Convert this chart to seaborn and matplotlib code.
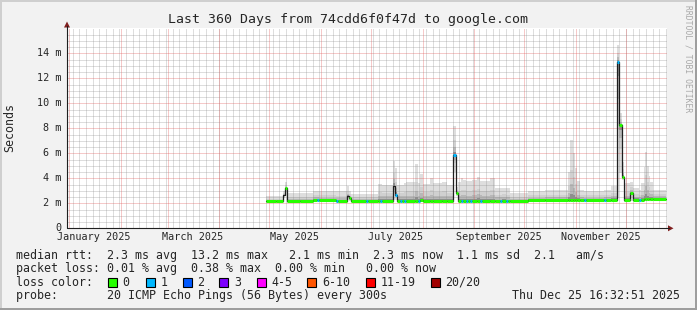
import numpy as np
import pandas as pd
import matplotlib
matplotlib.use("Agg")
import matplotlib.pyplot as plt
import matplotlib.transforms as mtrans
from matplotlib.patches import Rectangle, Polygon
from matplotlib.lines import Line2D
import seaborn as sns

# ---------------- data (x = days since window start 2024-12-30 16:32:51) ----------------
day = [119.4, 125.4, 129.6, 130.8, 132.0, 139.8, 147.6, 150.0, 151.2, 161.4,
       162.6, 168.0, 169.2, 170.4, 179.4, 180.6, 186.6, 187.8, 189.0, 195.6,
       196.8, 198.0, 199.8, 201.0, 202.2, 203.4, 208.8, 210.6, 211.8, 213.6,
       217.8, 219.6, 225.0, 228.0, 231.4, 233.4, 234.6, 236.4, 237.6, 239.4,
       240.6, 241.8, 243.0, 246.0, 247.8, 249.0, 253.8, 256.8, 259.8, 261.0,
       263.4, 264.6, 265.8, 276.6, 286.8, 300.6, 301.8, 303.6, 304.8, 306.0,
       307.8, 310.2, 311.4, 322.2, 323.4, 326.4, 330.0, 331.2, 332.7, 333.9,
       337.8, 339.6, 343.2, 344.4, 345.9, 346.8, 348.0, 348.9, 349.8, 351.6]
day_end = 359.4

median_ms = [2.15, 2.15, 2.65, 3.2, 2.2, 2.2, 2.3, 2.3, 2.25, 2.2,
             2.2, 2.55, 2.45, 2.2, 2.2, 2.2, 2.2, 2.2, 2.2, 3.4,
             2.66, 2.2, 2.2, 2.2, 2.2, 2.2, 2.2, 2.2, 2.25, 2.2,
             2.2, 2.2, 2.2, 2.2, 5.87, 2.85, 2.2, 2.2, 2.2, 2.2,
             2.2, 2.2, 2.2, 2.2, 2.2, 2.2, 2.2, 2.2, 2.2, 2.2,
             2.2, 2.2, 2.2, 2.25, 2.25, 2.25, 2.25, 2.25, 2.25, 2.25,
             2.25, 2.25, 2.25, 2.25, 2.25, 2.3, 13.3, 8.26, 4.13, 2.25,
             2.85, 2.3, 2.3, 2.3, 2.35, 2.35, 2.35, 2.35, 2.35, 2.38]

low_ms = [2.05, 2.05, 2.4, 2.9, 2.1, 2.1, 2.15, 2.15, 2.1, 2.1,
          2.1, 2.3, 2.2, 2.1, 2.1, 2.1, 2.1, 2.1, 2.1, 2.3,
          2.3, 2.1, 2.1, 2.1, 2.1, 2.1, 2.1, 2.1, 2.1, 2.1,
          2.1, 2.1, 2.1, 2.1, 4.5, 2.6, 2.1, 2.1, 2.1, 2.1,
          2.1, 2.1, 2.1, 2.1, 2.1, 2.1, 2.1, 2.1, 2.1, 2.1,
          2.1, 2.1, 2.1, 2.1, 2.1, 2.1, 2.1, 2.1, 2.1, 2.1,
          2.1, 2.1, 2.1, 2.1, 2.1, 2.15, 2.4, 4.4, 3.9, 2.1,
          2.2, 2.15, 2.15, 2.15, 2.2, 2.2, 2.2, 2.2, 2.2, 2.25]

high_ms = [2.55, 2.6, 3.0, 3.7, 2.8, 2.85, 3.0, 3.0, 3.0, 2.95,
           2.95, 3.4, 3.0, 2.75, 2.75, 2.75, 3.55, 3.55, 3.5, 5.4,
           4.8, 3.5, 3.5, 3.5, 3.6, 3.7, 5.15, 3.6, 4.35, 3.55,
           4.0, 3.6, 3.7, 3.5, 8.2, 3.3, 3.7, 4.0, 3.9, 3.75,
           3.75, 3.75, 3.9, 4.1, 3.8, 3.75, 4.0, 3.2, 3.2, 3.25,
           3.2, 3.2, 2.85, 3.0, 3.1, 4.5, 7.1, 6.0, 4.8, 3.8,
           3.05, 3.0, 3.0, 3.1, 3.1, 3.4, 14.7, 9.2, 5.3, 3.6,
           3.73, 3.2, 3.1, 3.6, 4.9, 6.1, 5.0, 4.2, 3.7, 3.1]

# loss class index per step (-1 = no coloured segment)
loss_class = [0, 0, -1, 0, 0, 0, 0, 1, 0, 1,
              0, -1, 0, 0, 1, 0, 0, 1, 0, -1,
              1, 0, 1, 0, 1, 0, 0, 1, 0, 0,
              0, 0, 0, 0, 1, 0, 0, 1, 0, 1,
              0, 1, 0, 0, 1, 0, 0, 0, 1, 0,
              1, 0, 0, 0, 0, 0, 0, 0, 0, 0,
              0, 1, 0, 1, 0, 0, 1, 0, 0, 0,
              0, 0, 1, 0, 0, 0, 0, 0, 0, 0]

loss_labels = ['0', '1', '2', '3', '4-5', '6-10', '11-19', '20/20']
loss_colors = ['#26ff00', '#00b8ff', '#0059ff', '#7e00ff', '#ff00ff', '#ff5500', '#ff0000', '#a10000']

y_ticks = [0, 2, 4, 6, 8, 10, 12, 14]
y_tick_labels = ['0', '2 m', '4 m', '6 m', '8 m', '10 m', '12 m', '14 m']
x_tick_labels = ['January 2025', 'March 2025', 'May 2025', 'July 2025',
                 'September 2025', 'November 2025']

title = "Last 360 Days from 74cdd6f0f47d to google.com"
legend_rows = [
    "median rtt:  2.3 ms avg  13.2 ms max   2.1 ms min  2.3 ms now  1.1 ms sd  2.1   am/s",
    "packet loss: 0.01 % avg  0.38 % max  0.00 % min   0.00 % now",
    "loss color:",
    "probe:       20 ICMP Echo Pings (56 Bytes) every 300s",
]
stamp = "Thu Dec 25 16:32:51 2025"

# ---------------- figure ----------------
sns.set_style("white")
MONO = ['DejaVu Sans Mono']
plt.rcParams['font.family'] = MONO

W, H = 697, 310
fig = plt.figure(figsize=(W / 100, H / 100), dpi=100)
fig.patch.set_facecolor('#f2f2f2')


def fx(x):
    return x / W


def fy(y):
    return 1 - y / H


X0, Y0, PW, PH = 67, 228.3, 600, 200
ax = fig.add_axes([fx(X0), fy(Y0), PW / W, PH / H])
ax.set_facecolor('white')
ax.set_xlim(0, 360)
ax.set_ylim(0, 16)
for s in ax.spines.values():
    s.set_visible(False)

t0 = pd.Timestamp('2024-12-30 16:32:51')
month_starts = pd.date_range('2025-01-01', '2025-12-01', freq='MS')
month_pos = np.array([(m - t0) / pd.Timedelta(days=1) for m in month_starts])
minor_days = pd.date_range('2024-12-30', '2025-12-26', freq='4D')
minor_pos = np.array([(d - t0) / pd.Timedelta(days=1) for d in minor_days])
minor_pos = minor_pos[(minor_pos > 0) & (minor_pos < 360)]

# grid (dotted, drawn over the smoke, semi-transparent like rrdtool)
GRID = (0.56, 0.56, 0.56, 0.6)
MGRID = (0.87, 0.31, 0.31, 0.6)
dot = (0, (1, 1))
gkw = dict(lw=0.72, ls=dot)
for v in np.arange(0.5, 16, 0.5):
    if v % 2 != 0:
        ax.axhline(v, color=GRID, zorder=2, **gkw)
for p in minor_pos:
    ax.axvline(p, color=GRID, zorder=2, **gkw)
for v in y_ticks[1:]:
    ax.axhline(v, color=MGRID, zorder=2.1, **gkw)
for p in month_pos:
    ax.axvline(p, color=MGRID, zorder=2.1, **gkw)

# smoke
edges = np.array(day + [day_end])
med = np.array(median_ms + [median_ms[-1]])
lo = np.array(low_ms + [low_ms[-1]])
hi = np.array(high_ms + [high_ms[-1]])
bands = [(1.0, '#dedede'), (0.5, '#d0d0d0'), (0.27, '#b8b8b8'), (0.1, '#8e8e8e')]
for f, c in bands:
    top = med + f * (hi - med)
    bot = med - f * (med - lo)
    ax.fill_between(edges, bot, top, step='post', color=c, lw=0, zorder=1)

# median line (black) through seaborn
df = pd.DataFrame({'day': edges, 'median': med})
sns.lineplot(data=df, x='day', y='median', drawstyle='steps-post', color='#1f1f1f',
             lw=0.9, estimator=None, sort=False, ax=ax, legend=False, zorder=4)

# loss coloured median segments
for i in range(len(day)):
    k = loss_class[i]
    if k >= 0:
        ax.hlines(median_ms[i], edges[i], edges[i + 1], color=loss_colors[k],
                  lw=2.2, zorder=5)

ax.set_xlabel('')
ax.set_ylabel('')
ax.set_yticks(y_ticks)
ax.set_yticks(np.arange(0, 16, 0.5), minor=True)
ax.set_xticks(month_pos)
ax.set_xticks(minor_pos, minor=True)
ax.tick_params(axis='both', which='both', direction='out', color='#1f1f1f',
               labelleft=False, labelbottom=False, width=0.72)
ax.tick_params(axis='both', which='major', length=2.6)
ax.tick_params(axis='both', which='minor', length=1.5)

# tick labels
ty = mtrans.blended_transform_factory(fig.transFigure, ax.transData)
for v, s in zip(y_ticks, y_tick_labels):
    ax.text(fx(61), v, s, transform=ty, ha='right', va='center', fontsize=7.3,
            family=MONO, clip_on=False)
tx = mtrans.blended_transform_factory(ax.transData, fig.transFigure)
for p, s in zip(month_pos[::2] + 15, x_tick_labels):
    ax.text(p, fy(237.5), s, transform=tx, ha='center', va='center', fontsize=7.3,
            family=MONO, clip_on=False)

# axes lines and arrows
fig.add_artist(Line2D([fx(X0), fx(669)], [fy(Y0), fy(Y0)], color='#1f1f1f', lw=0.8))
fig.add_artist(Line2D([fx(X0), fx(X0)], [fy(Y0), fy(26)], color='#1f1f1f', lw=0.8))
fig.add_artist(Polygon([(fx(668), fy(225.3)), (fx(668), fy(231.3)), (fx(673.5), fy(Y0))],
                       closed=True, color='#801f1f', lw=0))
fig.add_artist(Polygon([(fx(64), fy(27.5)), (fx(70), fy(27.5)), (fx(X0), fy(21.5))],
                       closed=True, color='#801f1f', lw=0))

# texts
fig.text(fx(348), fy(19.5), title, ha='center', va='center', fontsize=9.5, family=MONO)
fig.text(fx(10), fy(128), 'Seconds', rotation=90, ha='center', va='center',
         fontsize=8.4, family=MONO)
fig.text(fx(688), fy(5), 'RRDTOOL / TOBI OETIKER', rotation=270, ha='center', va='top',
         fontsize=5.8, family=MONO, color='#a8a8a8')

row_y = [255, 268.5, 282.3, 295.7]
for s, y in zip(legend_rows, row_y):
    fig.text(fx(15.5), fy(y), s, ha='left', va='center', fontsize=8.4, family=MONO)
fig.text(fx(680.5), fy(row_y[3]), stamp, ha='right', va='center', fontsize=8.4, family=MONO)

box_x = [108, 145.7, 182.7, 219.3, 256.7, 307.3, 365.7, 430.7]
for bx, lab, c in zip(box_x, loss_labels, loss_colors):
    fig.add_artist(Rectangle((fx(bx), fy(row_y[2] + 4.5)), 9 / W, 9 / H,
                             facecolor=c, edgecolor='black', lw=0.8))
    fig.text(fx(bx + 14.5), fy(row_y[2]), lab, ha='left', va='center', fontsize=8.4,
             family=MONO)

# 3D frame
fig.add_artist(Rectangle((0, 0), 2 / W, 1, color='#cfcfcf', lw=0))
fig.add_artist(Rectangle((0, 1 - 2 / H), 1, 2 / H, color='#cfcfcf', lw=0))
fig.add_artist(Rectangle((1 - 2 / W, 0), 2 / W, 1, color='#9e9e9e', lw=0))
fig.add_artist(Rectangle((0, 0), 1, 2 / H, color='#9e9e9e', lw=0))

fig.savefig('out.png', dpi=100, facecolor=fig.get_facecolor())
